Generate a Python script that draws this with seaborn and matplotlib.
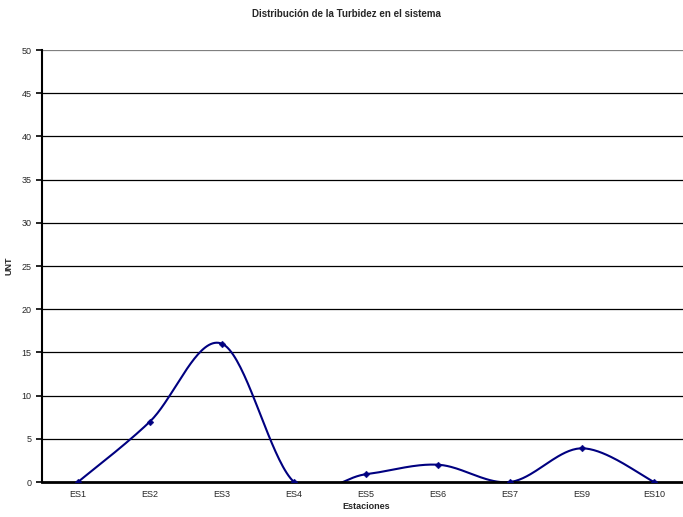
import numpy as np
import pandas as pd
import matplotlib
matplotlib.use("Agg")
import matplotlib.pyplot as plt
import seaborn as sns

estaciones = ["ES1", "ES2", "ES3", "ES4", "ES5", "ES6", "ES7", "ES9", "ES10"]
turbidez = [0, 7, 16, 0, 0.9, 2.0, 0, 3.9, 0]

sns.set_style("white")
plt.rcParams["font.family"] = ["Liberation Sans", "DejaVu Sans"]

fig = plt.figure(figsize=(6.83, 5.17), dpi=100)
ax = fig.add_axes([42/683, 1-482/517, 648/683, 432/517])

# Excel-style smoothed line (cubic Bezier, Catmull-Rom control points)
x = np.arange(len(estaciones), dtype=float)
y = np.array(turbidez, dtype=float)
px = np.concatenate([[x[0]], x, [x[-1]]])
py = np.concatenate([[y[0]], y, [y[-1]]])
sx, sy = [], []
t = np.linspace(0, 1, 40)
for i in range(1, len(px) - 2):
    p0 = np.array([px[i], py[i]])
    p3 = np.array([px[i+1], py[i+1]])
    p1 = p0 + (np.array([px[i+1], py[i+1]]) - np.array([px[i-1], py[i-1]])) / 6
    p2 = p3 - (np.array([px[i+2], py[i+2]]) - np.array([px[i], py[i]])) / 6
    b = ((1-t)**3)[:, None]*p0 + (3*(1-t)**2*t)[:, None]*p1 + (3*(1-t)*t**2)[:, None]*p2 + (t**3)[:, None]*p3
    sx.extend(b[:, 0]); sy.extend(b[:, 1])
curve = pd.DataFrame({"x": sx, "y": sy})
pts = pd.DataFrame({"x": x, "y": y})

for v in range(5, 51, 5):
    ax.axhline(v, color="#808080" if v == 50 else "black", lw=0.9, zorder=0)

sns.lineplot(data=curve, x="x", y="y", ax=ax, color="#000080", lw=1.5, sort=False, estimator=None)
sns.scatterplot(data=pts, x="x", y="y", ax=ax, color="#000080", marker="D", s=12, edgecolor="#000080", zorder=3)

ax.set_xlim(-0.5, len(estaciones) - 0.5)
ax.set_ylim(0, 50)
ax.set_yticks(range(0, 51, 5))
ax.set_xticks(x)
ax.set_xticklabels(estaciones)
ax.set_xticks(np.arange(0.5, len(estaciones) - 0.5, 1), minor=True)
ax.tick_params(axis="x", which="major", length=0, labelsize=6.5, pad=6)
ax.tick_params(axis="x", which="minor", length=4, width=1.5, direction="out", color="black")
ax.tick_params(axis="y", length=4, width=1.2, direction="out", labelsize=6.5, color="black", left=True)
for s in ["top", "right"]:
    ax.spines[s].set_visible(False)
ax.spines["left"].set_linewidth(1.5)
ax.spines["bottom"].set_linewidth(2)
ax.spines["left"].set_color("black")
ax.spines["bottom"].set_color("black")

ax.set_xlabel("Estaciones", fontsize=6.5, fontweight="bold", labelpad=2)
ax.set_ylabel("UNT", fontsize=6.5, fontweight="bold", labelpad=6)
fig.text(346/683, 1-14/517, "Distribución de la Turbidez en el sistema", ha="center", va="center",
         fontsize=7, fontweight="bold")

fig.savefig("out.png", dpi=100)
